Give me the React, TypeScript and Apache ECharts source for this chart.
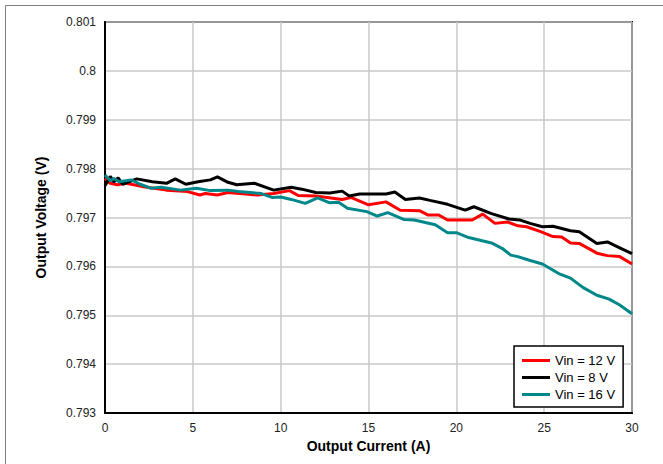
import React, { useEffect, useRef } from "react";
import * as echarts from "echarts";

const xTicks = [0, 5, 10, 15, 20, 25, 30];
const seriesNames = ["Vin = 12 V", "Vin = 8 V", "Vin = 16 V"];
const seriesColors = ["#ff0000", "#000000", "#00878a"];

const vin12: [number, number][] = [
  [0, 0.7978], [0.3, 0.7977], [0.7, 0.79767], [1.2, 0.7977], [2.2, 0.79763], [3.5, 0.79756],
  [4.7, 0.79753], [5.4, 0.79746], [5.7, 0.79749], [6.4, 0.79746], [7.0, 0.79751], [8.0, 0.79748],
  [8.7, 0.79746], [9.6, 0.79749], [10.5, 0.79755], [11.0, 0.79745], [12.0, 0.79744], [13.5, 0.79737],
  [14.0, 0.79741], [15.0, 0.79726], [16.0, 0.79732], [16.8, 0.79715], [17.9, 0.79714], [18.4, 0.79705],
  [19.0, 0.79705], [19.5, 0.79695], [20.9, 0.79695], [21.5, 0.79707], [22.2, 0.79688], [22.9, 0.79691],
  [23.5, 0.79683], [24.0, 0.79681], [24.8, 0.79671], [25.5, 0.79661], [26.0, 0.7966], [26.5, 0.79648],
  [27.0, 0.79647], [28.0, 0.79627], [28.6, 0.79622], [29.3, 0.7962], [30, 0.79605],
];

const vin8: [number, number][] = [
  [0, 0.79765], [0.3, 0.79784], [0.5, 0.79773], [0.75, 0.79781], [1.0, 0.79768], [1.8, 0.79779],
  [2.7, 0.79773], [3.5, 0.7977], [4.0, 0.79779], [4.6, 0.79768], [5.3, 0.79773], [6.0, 0.79777],
  [6.4, 0.79783], [7.0, 0.79772], [7.5, 0.79767], [8.5, 0.7977], [9.6, 0.79756], [10.6, 0.79762],
  [11.2, 0.79758], [12.0, 0.79751], [12.8, 0.7975], [13.5, 0.79754], [13.9, 0.79744], [14.5, 0.79748],
  [16.0, 0.79748], [16.5, 0.79752], [17.1, 0.79737], [17.9, 0.7974], [18.5, 0.79735], [19.5, 0.79727],
  [20.5, 0.79715], [21.0, 0.79722], [22.0, 0.79708], [23.0, 0.79697], [23.6, 0.79695], [24.2, 0.79688],
  [24.9, 0.79681], [25.5, 0.79682], [26.5, 0.79673], [27.0, 0.79671], [28.0, 0.79647], [28.6, 0.7965],
  [29.3, 0.79638], [30, 0.79626],
];

const vin16: [number, number][] = [
  [0, 0.79787], [0.3, 0.79775], [0.5, 0.7978], [0.8, 0.79773], [1.5, 0.79777], [2.0, 0.79768],
  [2.6, 0.7976], [3.2, 0.79762], [4.3, 0.79756], [5.2, 0.7976], [6.0, 0.79755], [7.0, 0.79756],
  [7.6, 0.79753], [8.9, 0.79749], [9.5, 0.79741], [10.0, 0.79742], [10.6, 0.79737], [11.4, 0.79729],
  [12.1, 0.7974], [12.8, 0.7973], [13.3, 0.79731], [13.8, 0.79719], [14.9, 0.79712], [15.5, 0.79703],
  [16.1, 0.7971], [17.0, 0.79696], [17.6, 0.79695], [18.8, 0.79685], [19.5, 0.79669], [20.0, 0.79669],
  [20.7, 0.79659], [22.0, 0.79648], [22.6, 0.79637], [23.1, 0.79623], [23.5, 0.7962], [24.2, 0.79612],
  [24.9, 0.79605], [25.9, 0.79584], [26.5, 0.79576], [27.2, 0.79557], [28.0, 0.79541], [28.7, 0.79533],
  [29.3, 0.79521], [30, 0.79503],
];

const seriesData = [vin12, vin8, vin16];

export default function App() {
  const ref = useRef<HTMLDivElement>(null);
  useEffect(() => {
    if (!ref.current) return;
    const chart = echarts.init(ref.current, null, { renderer: "svg" });
    const font = "Liberation Sans, Arial, sans-serif";
    chart.setOption({
      animation: false,
      backgroundColor: "#ffffff",
      textStyle: { fontFamily: font },
      graphic: [
        { type: "line", shape: { x1: 5.5, y1: 5.5, x2: 663, y2: 5.5 }, style: { stroke: "#808080", lineWidth: 1 } },
        { type: "line", shape: { x1: 5.5, y1: 5.5, x2: 5.5, y2: 464 }, style: { stroke: "#808080", lineWidth: 1 } },
      ],
      grid: {
        left: 105, top: 22, right: 31, bottom: 51,
        show: true, borderColor: "#000", borderWidth: 2, backgroundColor: "transparent",
      },
      legend: {
        left: 514, top: 346,
        orient: "vertical",
        backgroundColor: "#fff",
        borderColor: "#000",
        borderWidth: 1.5,
        borderRadius: 0,
        padding: [8, 8, 6, 8],
        itemGap: 4,
        itemWidth: 28,
        itemHeight: 3,
        icon: "rect",
        textStyle: { fontFamily: font, fontSize: 13, color: "#000" },
        data: seriesNames,
      },
      xAxis: {
        type: "value",
        min: 0, max: 30, interval: 5,
        name: "Output Current (A)",
        nameLocation: "middle",
        nameGap: 25,
        nameTextStyle: { fontFamily: font, fontSize: 14, fontWeight: "bold", color: "#000" },
        axisLine: { show: true, lineStyle: { color: "#000", width: 2 } },
        axisTick: { show: false },
        axisLabel: { fontFamily: font, fontSize: 12, color: "#222", margin: 9,
          formatter: (v: number) => (xTicks.includes(v) ? String(v) : "") },
        splitLine: { show: true, lineStyle: { color: "#c8c8c8", width: 1.5 } },
      },
      yAxis: {
        type: "value",
        min: 0.793, max: 0.801, interval: 0.001,
        name: "Output Voltage (V)",
        nameLocation: "middle",
        nameGap: 57,
        nameTextStyle: { fontFamily: font, fontSize: 14, fontWeight: "bold", color: "#000" },
        axisLine: { show: true, lineStyle: { color: "#000", width: 2 } },
        axisTick: { show: false },
        axisLabel: { fontFamily: font, fontSize: 12, color: "#222", margin: 9,
          formatter: (v: number) => String(parseFloat(v.toFixed(3))) },
        splitLine: { show: true, lineStyle: { color: "#c8c8c8", width: 1.5 } },
      },
      series: seriesNames.map((name, i) => ({
        name,
        type: "line",
        data: seriesData[i],
        showSymbol: false,
        symbol: "none",
        color: seriesColors[i],
        lineStyle: { color: seriesColors[i], width: 3 },
      })),
    });
    return () => chart.dispose();
  }, []);
  return <div ref={ref} style={{ position: "fixed", left: 0, top: 0, width: 663, height: 464 }} />;
}
